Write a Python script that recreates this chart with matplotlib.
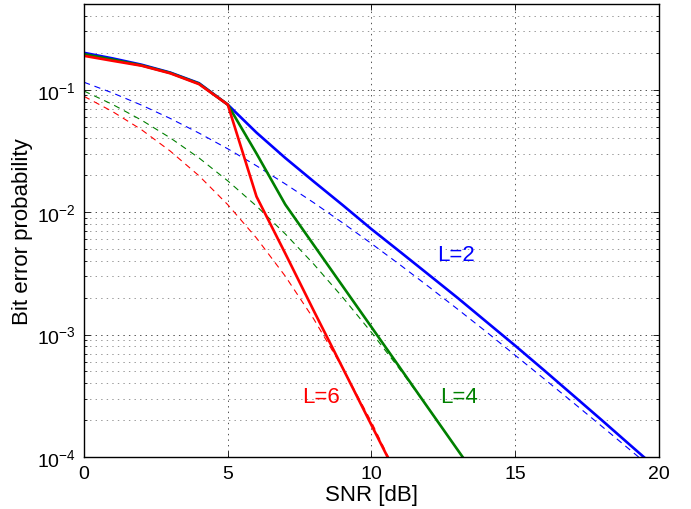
import numpy as np
import matplotlib
matplotlib.use("Agg")
import matplotlib.pyplot as plt
from matplotlib.ticker import LogLocator, NullFormatter

#%% data
snr_db = list(range(0, 21))

# simulated (solid)
sim_L2 = [0.200, 0.180, 0.160, 0.138, 0.113, 0.0755, 0.0446, 0.0277, 0.0177, 0.0114,
          0.00726, 0.00473, 0.00307, 0.00199, 0.00127, 0.000811, 0.000512, 0.000321,
          0.000201, 0.000125, 0.0000779]
sim_L4 = [0.195, 0.176, 0.158, 0.137, 0.112, 0.0755, 0.0301, 0.01155, 0.00535, 0.00248,
          0.00115, 0.000532, 0.000246, 0.000114, 0.0000529]
sim_L6 = [0.189, 0.172, 0.157, 0.136, 0.111, 0.0755, 0.0134, 0.0046, 0.00155, 0.000532,
          0.000182, 0.0000625]

# reference curves (dashed)
ref_L2 = [0.115, 0.0939, 0.0748, 0.0582, 0.0442, 0.0329, 0.0239, 0.0170, 0.0119, 0.00816,
          0.00553, 0.00370, 0.00245, 0.00161, 0.00105, 0.000677, 0.000436, 0.000280,
          0.000179, 0.000114, 0.0000726]
ref_L4 = [0.0975, 0.0756, 0.0564, 0.0404, 0.0277, 0.0180, 0.0112, 0.00664, 0.00374, 0.00201,
          0.00104, 0.000515, 0.000246, 0.000114, 0.0000516]
ref_L6 = [0.0882, 0.0661, 0.0471, 0.0315, 0.0198, 0.0115, 0.00614, 0.00300, 0.00133,
          0.000532, 0.000193, 0.0000631]

colors = {"L2": (0, 0, 1), "L4": (0, 0.5, 0), "L6": (1, 0, 0)}
labels = ["L=2", "L=4", "L=6"]
label_pos = [(12.3, 0.00452), (12.4, 0.000311), (7.6, 0.000311)]

#%% plot
plt.rcParams["font.family"] = ["Liberation Sans", "DejaVu Sans"]
plt.rcParams["mathtext.fontset"] = "custom"
plt.rcParams["mathtext.rm"] = "Liberation Sans"
plt.rcParams["mathtext.it"] = "Liberation Sans:italic"
plt.rcParams["lines.scale_dashes"] = False

fig = plt.figure(figsize=(6.91, 5.10), dpi=100)
ax = fig.add_axes([0.1216, 0.102, 0.832, 0.888])

# dashed reference curves first
for key, ref in zip(["L2", "L4", "L6"], [ref_L2, ref_L4, ref_L6]):
    ax.plot(snr_db[:len(ref)], ref, color=colors[key], lw=0.8, dashes=(4.5, 3.5))

# simulated curves on top
for key, sim in zip(["L2", "L4", "L6"], [sim_L2, sim_L4, sim_L6]):
    ax.plot(snr_db[:len(sim)], sim, color=colors[key], lw=1.9)

for key, txt, (x, y) in zip(["L2", "L4", "L6"], labels, label_pos):
    ax.text(x, y, txt, color=colors[key], fontsize=16, va="center", ha="left")

ax.set_yscale("log")
ax.set_xlim(0, 20)
ax.set_ylim(1e-4, 0.5)
ax.set_xticks([0, 5, 10, 15, 20])
ax.yaxis.set_major_locator(LogLocator(base=10, numticks=10))
ax.yaxis.set_minor_locator(LogLocator(base=10, subs=np.arange(2, 10), numticks=20))
ax.yaxis.set_minor_formatter(NullFormatter())

ax.tick_params(axis="both", which="both", direction="in", top=True, right=True,
               labelsize=14, width=0.6)
ax.tick_params(axis="both", which="major", length=4, pad=6)
ax.tick_params(axis="both", which="minor", length=2)

ax.grid(True, which="major", axis="both", color="#333333", lw=0.6, linestyle=(0, (1, 3)))
ax.grid(True, which="minor", axis="y", color="#888888", lw=0.6, linestyle=(0, (1, 3)))

for sp in ax.spines.values():
    sp.set_linewidth(1.0)

ax.set_xlabel("SNR [dB]", fontsize=16, labelpad=1)
ax.set_ylabel("Bit error probability", fontsize=16)
ax.yaxis.set_label_coords(-0.089, 0.5)

fig.savefig("out.png", dpi=100)
